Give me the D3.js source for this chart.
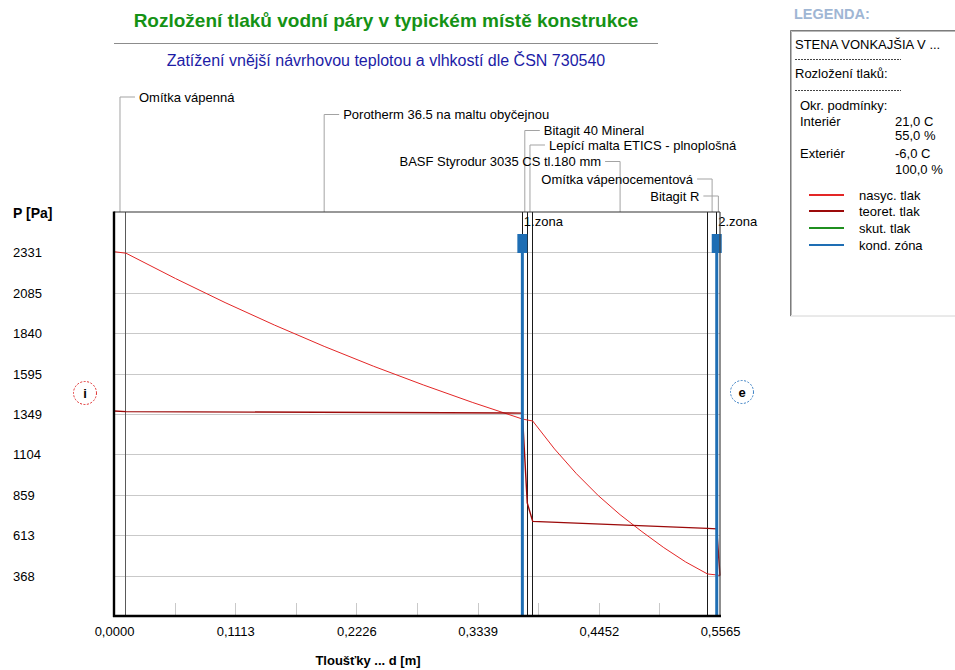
<!DOCTYPE html>
<html><head><meta charset="utf-8">
<script src="https://cdn.jsdelivr.net/npm/d3@7"></script>
<style>
html,body{margin:0;padding:0;background:#fff;}
svg{display:block;font-family:"Liberation Sans",Arial,sans-serif;}
</style></head><body>
<svg id="chart" width="955" height="670"></svg>
<script>
// Wall layers, from interior to exterior, and their boundaries [m]
const layerNames = ["Omítka vápenná", "Porotherm 36.5 na maltu obyčejnou", "Bitagit 40 Mineral",
  "Lepící malta ETICS - plnoplošná", "BASF Styrodur 3035 CS tl.180 mm", "Omítka vápenocementová", "Bitagit R"];
const layerBounds = [0, 0.011, 0.375, 0.3795, 0.3845, 0.545, 0.5535, 0.5565];

// Saturated water vapour pressure (nasyc. tlak) [Pa]
const satX = [0, 0.011, 0.0565, 0.102, 0.1475, 0.193, 0.2385, 0.284, 0.3295, 0.375, 0.3795, 0.3845,
  0.40456, 0.42463, 0.44469, 0.46475, 0.48481, 0.50488, 0.52494, 0.545, 0.5535, 0.5565];
const satP = [2335, 2326, 2172, 2026, 1889, 1760, 1639, 1526, 1419, 1319, 1313, 1307,
  1137, 987, 854, 738, 635, 538, 451, 378, 372, 368];

// Theoretical partial vapour pressure (teoret. tlak) [Pa]
const teorX = [0, 0.011, 0.375, 0.3795, 0.3845, 0.545, 0.5535, 0.5565];
const teorP = [1368, 1364, 1355, 809, 697, 655, 652, 368];

// Condensation zones (kond. zóna)
const zoneNames = ["1.zona", "2.zona"];
const zoneX = [0.375, 0.5535];

// Axes
const yTicks = [368, 613, 859, 1104, 1349, 1595, 1840, 2085, 2331];
const yDomain = [122.7, 2576.05];
const xTicks = [0, 0.1113, 0.2226, 0.3339, 0.4452, 0.5565];
const xMinorTicks = [0.05565, 0.1113, 0.16695, 0.2226, 0.27825, 0.3339, 0.38955, 0.4452, 0.50085];

// Legend content
const legendHeader = ["STENA VONKAJŠIA V ...", "Rozložení tlaků:"];
const conditionRows = [["Interiér", "21,0 C"], ["", "55,0 %"], ["Exteriér", "-6,0 C"], ["", "100,0 %"]];
const seriesNames = ["nasyc. tlak", "teoret. tlak", "skut. tlak", "kond. zóna"];
const seriesColors = ["#e32626", "#9c0a0a", "#1f8f1f", "#1e6eb4"];

const svg = d3.select("#chart");
const L = 114, R = 720, T = 212, B = 616;
const x = d3.scaleLinear().domain([0, 0.5565]).range([L, R]);
const y = d3.scaleLinear().domain(yDomain).range([B, T]);

// Titles
svg.append("text").attr("x", 386).attr("y", 27).attr("text-anchor", "middle")
  .attr("font-size", 19).attr("font-weight", "bold").attr("fill", "#159215")
  .text("Rozložení tlaků vodní páry v typickém místě konstrukce");
svg.append("line").attr("x1", 114).attr("x2", 658).attr("y1", 43.5).attr("y2", 43.5)
  .attr("stroke", "#8c8c8c").attr("stroke-width", 1);
svg.append("text").attr("x", 386).attr("y", 66).attr("text-anchor", "middle")
  .attr("font-size", 16).attr("fill", "#1c1ca6")
  .text("Zatížení vnější návrhovou teplotou a vlhkostí dle ČSN 730540");

// Grid lines
svg.append("g").attr("transform", `translate(${L},0)`)
  .call(d3.axisLeft(y).tickValues(yTicks).tickSize(-(R - L)).tickFormat(""))
  .call(g => g.select(".domain").remove())
  .call(g => g.selectAll("line").attr("stroke", "#c9c9c9").attr("shape-rendering", "crispEdges"));

// Minor thickness ticks rising from the bottom axis
svg.append("g").attr("transform", `translate(0,${B})`)
  .call(d3.axisBottom(x).tickValues(xMinorTicks).tickSize(-13).tickFormat(""))
  .call(g => g.select(".domain").remove())
  .call(g => g.selectAll("line").attr("stroke", "#c9c9c9").attr("shape-rendering", "crispEdges"));

// Layer boundaries
svg.append("g").selectAll("line").data(layerBounds.slice(1, -1)).join("line")
  .attr("x1", d => x(d)).attr("x2", d => x(d)).attr("y1", T).attr("y2", B)
  .attr("stroke", (d, i) => i === 0 ? "#5a5a5a" : "#1a1a1a").attr("stroke-width", 1)
  .attr("shape-rendering", "crispEdges");

// Layer labels with leaders
const labelLayout = [
  {y: 97, side: 1}, {y: 114.5, side: 1}, {y: 130.5, side: 1}, {y: 145, side: 1},
  {y: 161.5, side: -1}, {y: 179, side: -1}, {y: 196, side: -1}
];
const lbl = svg.append("g");
layerNames.forEach((name, i) => {
  const mx = x((layerBounds[i] + layerBounds[i + 1]) / 2);
  const ly = labelLayout[i].y, s = labelLayout[i].side;
  lbl.append("path")
    .attr("d", `M${mx},${T} V${ly} H${mx + s * 15}`)
    .attr("fill", "none").attr("stroke", "#a3a3a3").attr("stroke-width", 1);
  lbl.append("text").attr("x", mx + s * 19).attr("y", ly + 4.5)
    .attr("text-anchor", s > 0 ? "start" : "end").attr("font-size", 13).attr("fill", "#000")
    .text(name);
});

// Pressure curves
const line = d3.line().x(d => x(d[0])).y(d => y(d[1]));
svg.append("path").datum(satX.map((v, i) => [v, satP[i]])).attr("d", line)
  .attr("fill", "none").attr("stroke", seriesColors[0]).attr("stroke-width", 1);
svg.append("path").datum(teorX.map((v, i) => [v, teorP[i]])).attr("d", line)
  .attr("fill", "none").attr("stroke", seriesColors[1]).attr("stroke-width", 1.4);

// Condensation zones
zoneX.forEach((z, i) => {
  const zx = x(z);
  svg.append("line").attr("x1", zx).attr("x2", zx).attr("y1", 234).attr("y2", B)
    .attr("stroke", seriesColors[3]).attr("stroke-width", 3);
  svg.append("rect").attr("x", zx - 5).attr("y", 234).attr("width", 10).attr("height", 19)
    .attr("fill", seriesColors[3]);
  svg.append("text").attr("x", zx + 1.5).attr("y", 225.5).attr("font-size", 13).attr("fill", "#000")
    .text(zoneNames[i]);
});

// Plot frame
svg.append("line").attr("x1", L).attr("x2", R).attr("y1", T).attr("y2", T)
  .attr("stroke", "#333").attr("stroke-width", 1.2);
svg.append("line").attr("x1", R).attr("x2", R).attr("y1", T).attr("y2", B)
  .attr("stroke", "#444").attr("stroke-width", 1.2);
svg.append("line").attr("x1", L).attr("x2", L).attr("y1", T - 0.5).attr("y2", B + 1)
  .attr("stroke", "#000").attr("stroke-width", 2.4);
svg.append("line").attr("x1", L - 1).attr("x2", R + 1).attr("y1", B).attr("y2", B)
  .attr("stroke", "#000").attr("stroke-width", 2.4);

// Y axis labels
svg.append("g").attr("transform", "translate(13,0)")
  .call(d3.axisLeft(y).tickValues(yTicks).tickSize(0).tickFormat(d3.format("d")))
  .call(g => g.select(".domain").remove())
  .call(g => g.selectAll("text").attr("x", 0).attr("dy", "0.35em").attr("text-anchor", "start")
    .attr("font-size", 13).attr("font-family", "Liberation Sans, Arial, sans-serif").attr("fill", "#000"));
svg.append("text").attr("x", 13).attr("y", 218).attr("font-size", 14).attr("font-weight", "bold")
  .text("P [Pa]");

// X axis labels
svg.append("g").attr("transform", `translate(0,${B})`)
  .call(d3.axisBottom(x).tickValues(xTicks).tickSize(0)
    .tickFormat(d => d3.format(".4f")(d).replace(".", ",")))
  .call(g => g.select(".domain").remove())
  .call(g => g.selectAll("text").attr("y", 20).attr("dy", 0)
    .attr("font-size", 13).attr("font-family", "Liberation Sans, Arial, sans-serif").attr("fill", "#000"));
svg.append("text").attr("x", 368).attr("y", 665).attr("text-anchor", "middle")
  .attr("font-size", 13).attr("font-weight", "bold").text("Tloušťky ... d [m]");

// Interior / exterior markers
[[85, 393, "i", "#e03030"], [742, 392, "e", "#3a7fc4"]].forEach(([cx, cy, t, c]) => {
  svg.append("circle").attr("cx", cx).attr("cy", cy).attr("r", 11.5)
    .attr("fill", "#fff").attr("stroke", c).attr("stroke-width", 1).attr("stroke-dasharray", "2,1.5");
  svg.append("text").attr("x", cx).attr("y", cy + 4.5).attr("text-anchor", "middle")
    .attr("font-size", 13).attr("font-weight", "bold").text(t);
});

// Legend
svg.append("text").attr("x", 794).attr("y", 19).attr("font-size", 14.5).attr("font-weight", "bold")
  .attr("fill", "#9fb6d4").text("LEGENDA:");
const lg = svg.append("g");
lg.append("rect").attr("x", 790.5).attr("y", 30.5).attr("width", 200).attr("height", 285.5)
  .attr("fill", "#fff").attr("stroke", "#d4d4d4");
lg.append("path").attr("d", "M790.5,316 V30.5 H955").attr("fill", "none").attr("stroke", "#7c7c7c").attr("stroke-width", 1);
lg.append("path").attr("d", "M791.5,315 V31.5 H955").attr("fill", "none").attr("stroke", "#b8b8b8").attr("stroke-width", 1);
lg.append("text").attr("x", 795).attr("y", 49).attr("font-size", 13).text(legendHeader[0]);
lg.append("line").attr("x1", 795).attr("x2", 901).attr("y1", 59.5).attr("y2", 59.5)
  .attr("stroke", "#444").attr("stroke-dasharray", "2,1");
lg.append("text").attr("x", 795).attr("y", 77.5).attr("font-size", 13).text(legendHeader[1]);
lg.append("line").attr("x1", 795).attr("x2", 901).attr("y1", 90.5).attr("y2", 90.5)
  .attr("stroke", "#444").attr("stroke-dasharray", "2,1");
lg.append("text").attr("x", 800).attr("y", 110).attr("font-size", 13).text("Okr. podmínky:");
const rowY = [126, 140, 157.5, 174];
conditionRows.forEach((r, i) => {
  lg.append("text").attr("x", 800).attr("y", rowY[i]).attr("font-size", 13).text(r[0]);
  lg.append("text").attr("x", 895).attr("y", rowY[i]).attr("font-size", 13).text(r[1]);
});
const itemY = [195, 211, 228, 245];
seriesNames.forEach((n, i) => {
  lg.append("line").attr("x1", 809).attr("x2", 844).attr("y1", itemY[i]).attr("y2", itemY[i])
    .attr("stroke", seriesColors[i]).attr("stroke-width", 2);
  lg.append("text").attr("x", 859).attr("y", itemY[i] + 4.5).attr("font-size", 13).text(n);
});
</script>
</body></html>
